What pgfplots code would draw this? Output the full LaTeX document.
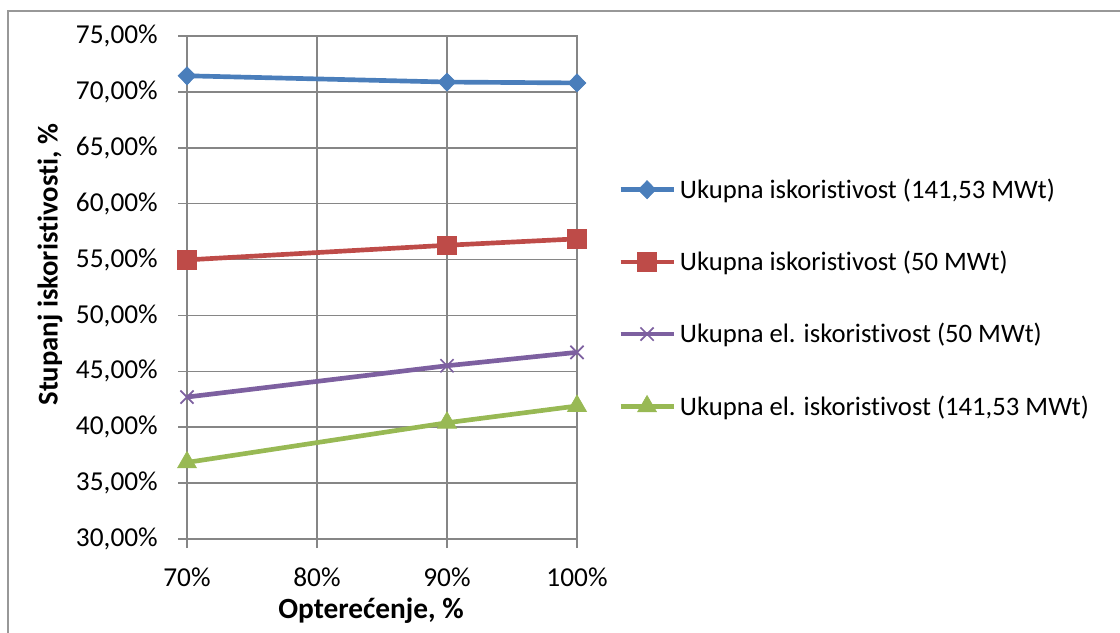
\documentclass[border=0pt]{standalone}
\usepackage{fontspec}
\setmainfont{Carlito}[Ligatures=CommonOff]
\usepackage{pgfplots}
\pgfplotsset{compat=1.18}
\definecolor{cblue}{HTML}{4A7EBB}
\definecolor{cred}{HTML}{BE4B48}
\definecolor{cpurple}{HTML}{7D60A0}
\definecolor{cgreen}{HTML}{98B954}
\definecolor{cgrid}{HTML}{868686}
\begin{document}
\begin{tikzpicture}[x=0.75pt,y=0.75pt]
\useasboundingbox (0,0) rectangle (1120,632);
\begin{scope}
\clip (0,0) rectangle (1120,632);
\draw[cgrid!85, line width=1.1pt] (8,-10) -- (8,621) -- (1130,621);
\end{scope}
\begin{axis}[
  at={(140.25pt,69.75pt)}, anchor=south west,
  scale only axis, width=292.5pt, height=377.25pt,
  xmin=70, xmax=100, ymin=30, ymax=75,
  xtick={70,80,90,100}, xticklabels={70\%,80\%,90\%,100\%},
  ytick={30,35,...,75},
  yticklabel={\pgfmathprintnumber[fixed,fixed zerofill,precision=2,use comma]{\tick}\%},
  /pgf/number format/assume math mode=true,
  grid=major, grid style={cgrid, line width=1.1pt},
  axis line style={cgrid, line width=1.1pt},
  tick style={cgrid, line width=1.1pt},
  tick align=outside, major tick length=6.75pt,
  xtick pos=left, ytick pos=left,
  ticklabel style={font=\fontsize{20.5}{24}\selectfont, text=black, inner sep=0pt},
  yticklabel style={anchor=east, xshift=-15pt},
  xticklabel style={anchor=north, yshift=-15pt},
  xlabel={\textbf{Opterećenje, \%}},
  ylabel={\textbf{Stupanj iskoristivosti, \%}},
  xlabel style={at={(axis description cs:0.472,-0.143)}, anchor=center, font=\fontsize{22}{26}\selectfont},
  ylabel style={at={(axis description cs:-0.351,0.545)}, anchor=center, font=\fontsize{21.5}{26}\selectfont},
  legend cell align=left,
  legend style={at={(1.105,0.479)}, anchor=west, draw=none, fill=none, inner sep=0pt,
    font=\fontsize{20}{24}\selectfont, row sep=38pt, column sep=3pt,
    nodes={inner sep=0pt}},
  legend image code/.code={\draw[mark repeat=2,mark phase=2] plot coordinates {(0pt,0pt) (19.875pt,0pt) (39.75pt,0pt)};},
]
\addplot[cblue, line width=3.5pt, mark=diamond*, mark size=6.8pt, mark options={solid, xscale=1.3, line width=0.5pt}]
  coordinates {(70,71.44) (90,70.88) (100,70.80)};
\addlegendentry{Ukupna iskoristivost (141,53 MWt)}
\addplot[cred, line width=3.5pt, mark=square*, mark size=7pt, mark options={solid, line width=0.5pt}]
  coordinates {(70,54.97) (90,56.28) (100,56.85)};
\addlegendentry{Ukupna iskoristivost (50 MWt)}
\addplot[cpurple, line width=3.5pt, mark=x, mark size=7pt, mark options={solid, line width=1.3pt}]
  coordinates {(70,42.7) (90,45.5) (100,46.7)};
\addlegendentry{Ukupna el. iskoristivost (50 MWt)}
\addplot[cgreen, line width=3.5pt, mark=triangle*, mark size=8.2pt, mark options={solid, line width=0.5pt}]
  coordinates {(70,36.85) (90,40.4) (100,41.9)};
\addlegendentry{Ukupna el. iskoristivost (141,53 MWt)}
\end{axis}
\end{tikzpicture}
\end{document}
